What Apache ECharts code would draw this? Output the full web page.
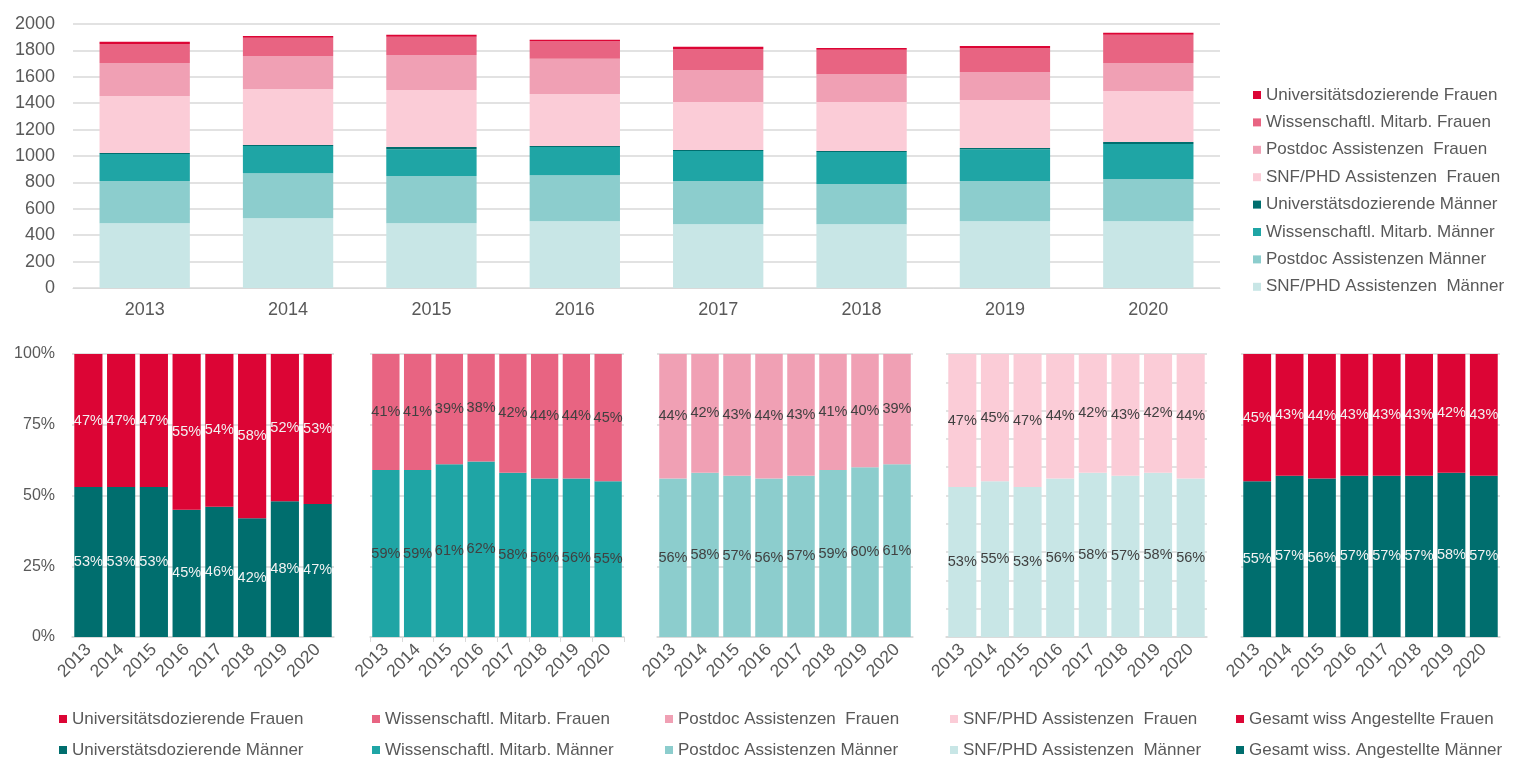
<!DOCTYPE html>
<html>
<head>
<meta charset="utf-8">
<script src="https://cdn.jsdelivr.net/npm/echarts@6/dist/echarts.min.js"></script>
<style>
html,body{margin:0;padding:0;background:#fff;}
#c{width:1535px;height:783px;}
</style>
</head>
<body>
<div id="c"></div>
<script>
// ---------- DATA ----------
const years = ['2013','2014','2015','2016','2017','2018','2019','2020'];
// top chart (absolute counts)
const snfM     = [491,529,491,506,483,483,506,506];
const postdocM = [319,341,357,349,327,304,304,319];
const wissM    = [205,205,204,213,227,243,242,265];
const uniM     = [7,8,16,7,8,7,8,16];
const snfF     = [433,425,432,395,364,372,364,387];
const postdocF = [250,250,266,266,243,213,213,212];
const wissF    = [144,137,137,136,159,182,182,213];
const uniF     = [16,15,15,8,16,15,15,15];
const topTicks = [0,200,400,600,800,1000,1200,1400,1600,1800,2000];
// bottom charts (percent shares)
const uniPctM  = [53,53,53,45,46,42,48,47];
const uniPctF  = [47,47,47,55,54,58,52,53];
const wissPctM = [59,59,61,62,58,56,56,55];
const wissPctF = [41,41,39,38,42,44,44,45];
const postPctM = [56,58,57,56,57,59,60,61];
const postPctF = [44,42,43,44,43,41,40,39];
const snfPctM  = [53,55,53,56,58,57,58,56];
const snfPctF  = [47,45,47,44,42,43,42,44];
const totPctM  = [55,57,56,57,57,57,58,57];
const totPctF  = [45,43,44,43,43,43,42,43];
const pctTicks = [0,25,50,75,100];

// ---------- NAMES / COLORS ----------
const N = {
  uniF:'Universitätsdozierende Frauen', wissF:'Wissenschaftl. Mitarb. Frauen',
  postF:'Postdoc Assistenzen  Frauen', snfF:'SNF/PHD Assistenzen  Frauen',
  uniM:'Universtätsdozierende Männer', wissM:'Wissenschaftl. Mitarb. Männer',
  postM:'Postdoc Assistenzen Männer', snfM:'SNF/PHD Assistenzen  Männer',
  totF:'Gesamt wiss Angestellte Frauen', totM:'Gesamt wiss. Angestellte Männer'
};
const C = {
  uniF:'#dc0535', wissF:'#e86482', postF:'#f0a0b4', snfF:'#fbccd7',
  uniM:'#006e6e', wissM:'#1fa5a5', postM:'#8ccdcd', snfM:'#c8e6e6',
  totF:'#dc0535', totM:'#006e6e'
};
const FONT = '"Liberation Sans", Arial, sans-serif';
const TXT = '#595959';
const GRID = '#d9d9d9';

// ---------- LAYOUT ----------
const grids = [
  {left:73, top:24, width:1147, height:264},
  {left:72, top:354, width:262, height:283},
  {left:370, top:354, width:254, height:283},
  {left:657, top:354, width:256, height:283},
  {left:946, top:354, width:261, height:283},
  {left:1241, top:354, width:259, height:283}
];

const xAxes = [], yAxes = [];
xAxes.push({gridIndex:0, type:'category', data:years,
  axisLine:{show:true,lineStyle:{color:GRID,width:1}}, axisTick:{show:false},
  axisLabel:{color:TXT,fontSize:18,fontFamily:FONT,margin:13}});
yAxes.push({gridIndex:0, type:'value', min:topTicks[0], max:topTicks[topTicks.length-1],
  interval:topTicks[1]-topTicks[0],
  axisLine:{show:false}, axisTick:{show:false},
  splitLine:{lineStyle:{color:GRID,width:1.5}},
  axisLabel:{color:TXT,fontSize:18,fontFamily:FONT,margin:18,formatter:v=>String(v)}});
for (let i=1;i<=5;i++){
  xAxes.push({gridIndex:i, type:'category', data:years,
    axisLine:{show:true,lineStyle:{color:GRID,width:1.5}},
    axisTick:{show:i===2,length:5,lineStyle:{color:GRID}},
    axisLabel:{color:TXT,fontSize:17.5,fontFamily:FONT,rotate:45,margin:10,interval:0}});
  yAxes.push({gridIndex:i, type:'value', min:0, max:100,
    interval: i===4 ? 10 : (pctTicks[1]-pctTicks[0]),
    axisLine:{show:false}, axisTick:{show:false},
    splitLine:{lineStyle:{color:GRID,width:1.5}},
    axisLabel:{show:i===1,color:TXT,fontSize:16,fontFamily:FONT,margin:17,formatter:'{value}%'}});
}

const series = [];
function topBar(key, data){
  series.push({type:'bar', name:N[key], data:data, stack:'top', xAxisIndex:0, yAxisIndex:0,
    barCategoryGap:'37%', itemStyle:{color:C[key]}, emphasis:{disabled:true}});
}
topBar('snfM', snfM); topBar('postM', postdocM); topBar('wissM', wissM); topBar('uniM', uniM);
topBar('snfF', snfF); topBar('postF', postdocF); topBar('wissF', wissF); topBar('uniF', uniF);

function pctBar(idx, key, data, labelColor){
  series.push({type:'bar', name:N[key], data:data, stack:'p'+idx, xAxisIndex:idx, yAxisIndex:idx,
    barCategoryGap:'14%', itemStyle:{color:C[key]}, emphasis:{disabled:true},
    label:{show:true, position:'inside', formatter:'{c}%', color:labelColor,
      fontSize:14.5, fontFamily:FONT}});
}
const LW = '#f2f2f2', LD = '#404040';
pctBar(1,'uniM',uniPctM,LW);  pctBar(1,'uniF',uniPctF,LW);
pctBar(2,'wissM',wissPctM,LD); pctBar(2,'wissF',wissPctF,LD);
pctBar(3,'postM',postPctM,LD); pctBar(3,'postF',postPctF,LD);
pctBar(4,'snfM',snfPctM,LD);  pctBar(4,'snfF',snfPctF,LD);
pctBar(5,'totM',totPctM,LW);  pctBar(5,'totF',totPctF,LW);

const legendBase = {orient:'vertical', icon:'rect', itemWidth:8, itemHeight:8, padding:0,
  selectedMode:false, textStyle:{color:TXT, fontSize:17, fontFamily:FONT, lineHeight:18}};
const legends = [];
legends.push(Object.assign({}, legendBase, {left:1253, top:86, itemGap:9.4,
  data:[N.uniF,N.wissF,N.postF,N.snfF,N.uniM,N.wissM,N.postM,N.snfM]}));
const bottomCols = [
  {left:59, items:[N.uniF,N.uniM]},
  {left:372, items:[N.wissF,N.wissM]},
  {left:665, items:[N.postF,N.postM]},
  {left:950, items:[N.snfF,N.snfM]},
  {left:1236, items:[N.totF,N.totM]}
];
bottomCols.forEach(c=>{
  legends.push(Object.assign({}, legendBase, {left:c.left, top:710, itemGap:13, data:c.items}));
});

const chart = echarts.init(document.getElementById('c'));
chart.setOption({
  animation:false,
  backgroundColor:'#fff',
  textStyle:{fontFamily:FONT},
  grid:grids, xAxis:xAxes, yAxis:yAxes, series:series, legend:legends
});
</script>
</body>
</html>
